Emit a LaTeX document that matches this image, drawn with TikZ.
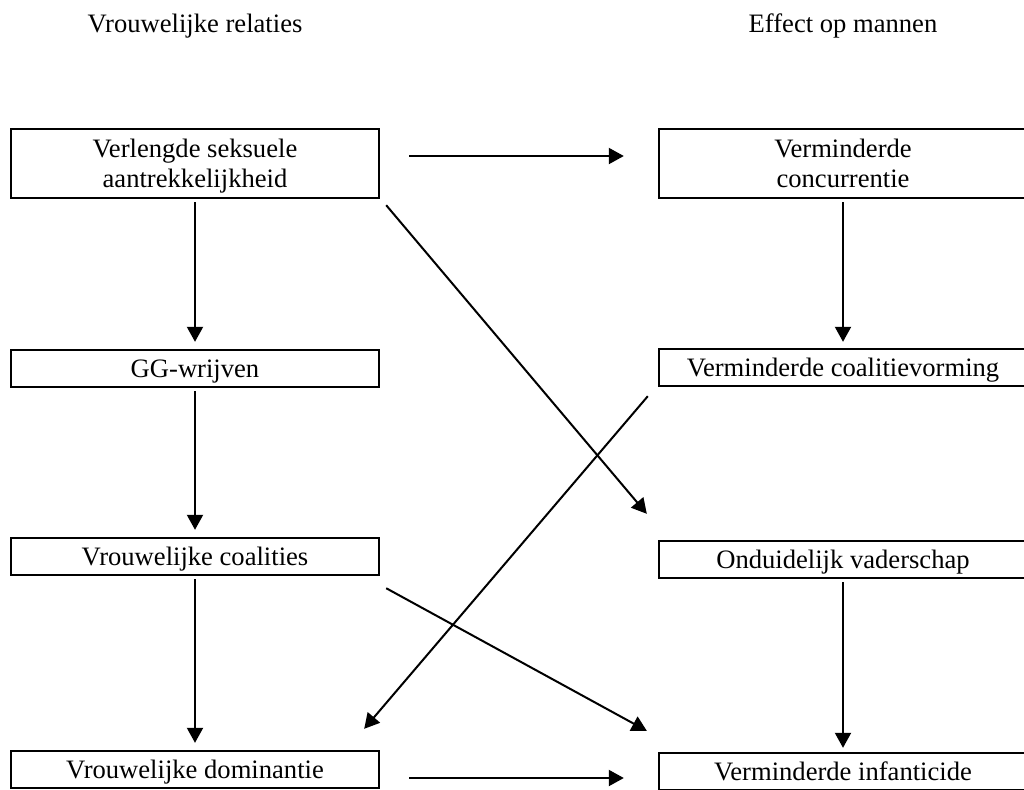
\documentclass[tikz,border=0pt]{standalone}
\usepackage{fontspec}
\setmainfont{Liberation Serif}
\usetikzlibrary{positioning,arrows.meta,calc}
\tikzset{>={Triangle[length=7.5pt,width=8pt]}}
\tikzset{box/.style={draw, line width=1.2pt, minimum width=184pt, minimum height=18.5pt,
    inner sep=0pt, align=center, text height=9pt, text depth=0pt, font=\fontsize{13.3}{15}\selectfont},
  box2/.style={box, minimum height=34.5pt, text height=24pt},
  kop/.style={anchor=base, font=\fontsize{13.3}{15}\selectfont}}

\begin{document}
\begin{tikzpicture}[x=0.5pt, y=-0.5pt, line width=1pt]
      \useasboundingbox (0,0) rectangle (1024,789);
      \clip (0,0) rectangle (1024,789);
      \node[kop] (kl) at (195,32) {Vrouwelijke relaties};
      \node[kop] (kr) at (843,32) {Effect op mannen};
      \node[box2] (vsa) at (195,163.5) {Verlengde seksuele\\aantrekkelijkheid};  %starting node
      \node[box] (gg) [below=74.8pt of vsa] {GG-wrijven};
      \node[box] (vc) [below=74.3pt of gg] {Vrouwelijke coalities};
      \node[box] (vd) [below=86.8pt of vc] {Vrouwelijke dominantie};
      \node[box2] (vcon) [right=138.8pt of vsa] {Verminderde\\concurrentie};
      \node[box] (vcv) [below=74.3pt of vcon] {Verminderde coalitievorming};
      \node[box] (ov) [below=76.3pt of vcv] {Onduidelijk vaderschap};
      \node[box] (vi) [below=86.3pt of ov] {Verminderde infanticide};

      \draw[->] ($(vsa.east)+(29,-7.5)$) -- ($(vcon.west)+(-34,-7.5)$);
      \draw[->] ($(vd.east)+(29,8.5)$) -- ($(vi.west)+(-34,6.5)$);
      \draw[->, shorten <=1.5pt, shorten >=3.5pt] (vsa) -- (gg);
      \draw[->, shorten <=1.5pt, shorten >=3.5pt] (gg) -- (vc);
      \draw[->, shorten <=1.5pt, shorten >=3.5pt] (vc) -- (vd);
      \draw[->, shorten <=1.5pt, shorten >=3pt] (vcon) -- (vcv);
      \draw[->, shorten <=1.5pt, shorten >=2pt] (ov) -- (vi);
      \draw[->] ($(vsa.south east)+(6,6)$) -- ($(ov.north west)+(-11,-26)$);
      \draw[->] ($(vcv.south west)+(-10,9)$) -- ($(vd.north east)+(-16,-21)$);
      \draw[->] ($(vc.south east)+(6,12)$) -- ($(vi.north west)+(-11,-21)$);
\end{tikzpicture}
\end{document}
